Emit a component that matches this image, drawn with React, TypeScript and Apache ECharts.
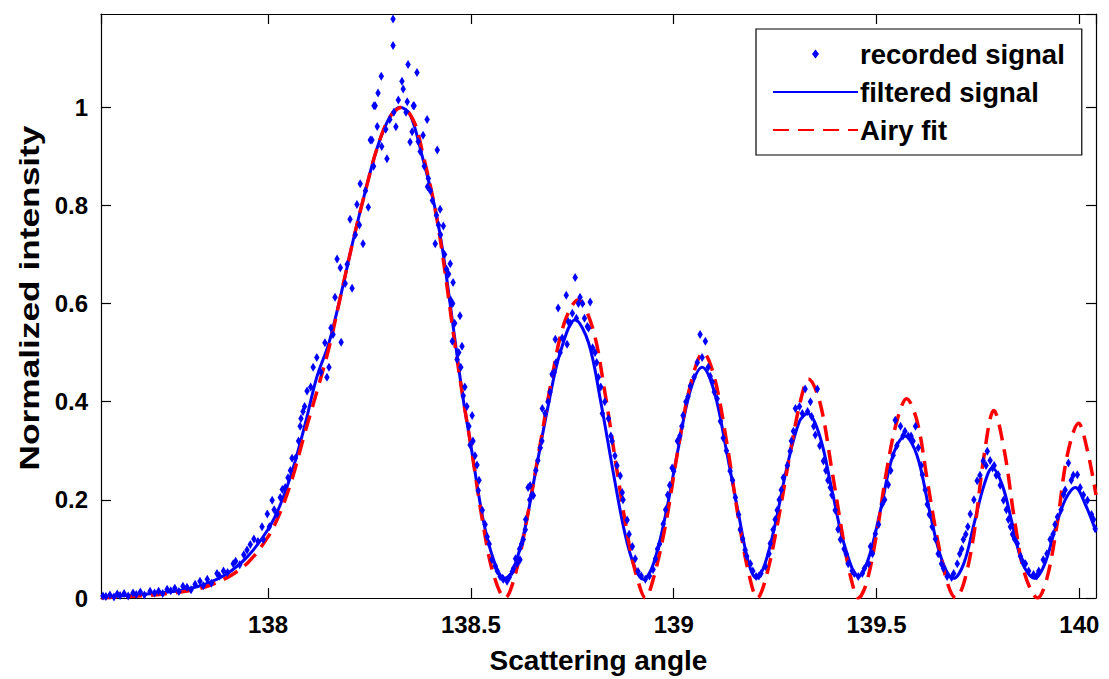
import React, { useEffect, useRef } from "react";
import * as echarts from "echarts";

const X_MIN = 137.588;
const X_MAX = 140.041;
const Y_MIN = 0;
const Y_MAX = 1.19;

const seriesNames = ["recorded signal", "filtered signal", "Airy fit"];
const xTitle = "Scattering angle";
const yTitle = "Normalized intensity";

// recorded signal: [angle, normalized intensity]
const recordedSignal: [number, number][] = [
  [137.593,0.004],[137.600,0.003],[137.610,0.006],[137.620,0.002],[137.628,0.008],[137.635,0.005],[137.645,0.009],[137.655,0.004],
  [137.667,0.010],[137.675,0.007],[137.685,0.012],[137.695,0.006],[137.709,0.014],[137.720,0.010],[137.730,0.014],[137.740,0.009],
  [137.751,0.018],[137.760,0.015],[137.770,0.020],[137.780,0.013],[137.790,0.024],[137.800,0.022],[137.810,0.017],[137.820,0.028],
  [137.832,0.034],[137.840,0.025],[137.850,0.038],[137.860,0.030],[137.874,0.050],[137.880,0.045],[137.890,0.055],[137.900,0.052],
  [137.914,0.070],[137.920,0.075],[137.930,0.068],[137.940,0.088],[137.948,0.098],[137.956,0.109],[137.965,0.120],[137.975,0.115],
  [137.985,0.145],[137.988,0.119],[137.998,0.171],[138.003,0.145],[138.010,0.199],[138.015,0.180],[138.022,0.171],[138.030,0.205],
  [138.035,0.221],[138.042,0.225],[138.049,0.245],[138.055,0.260],[138.059,0.285],[138.067,0.285],[138.075,0.320],[138.079,0.350],
  [138.081,0.366],[138.086,0.380],[138.090,0.390],[138.096,0.422],[138.105,0.430],[138.111,0.470],[138.120,0.490],[138.130,0.460],
  [138.140,0.520],[138.145,0.450],[138.150,0.470],[138.155,0.550],[138.160,0.537],[138.165,0.613],[138.170,0.691],[138.178,0.673],
  [138.180,0.521],[138.190,0.641],[138.195,0.680],[138.202,0.772],[138.207,0.631],[138.215,0.740],[138.219,0.802],[138.225,0.760],
  [138.227,0.844],[138.234,0.722],[138.240,0.830],[138.247,0.796],[138.252,0.933],[138.256,0.933],[138.260,0.880],[138.261,1.003],
  [138.264,1.003],[138.269,0.961],[138.271,1.029],[138.279,1.063],[138.280,0.920],[138.290,0.955],[138.293,0.895],[138.300,0.975],
  [138.308,1.180],[138.308,1.126],[138.310,0.990],[138.315,0.960],[138.321,1.015],[138.330,1.053],[138.333,1.037],[138.340,0.990],
  [138.343,1.011],[138.345,1.087],[138.350,0.929],[138.355,0.950],[138.358,1.003],[138.360,1.003],[138.367,1.071],[138.370,0.930],
  [138.375,0.910],[138.382,0.943],[138.385,0.880],[138.392,0.975],[138.393,0.838],[138.395,0.855],[138.400,0.830],[138.405,0.810],
  [138.412,0.722],[138.415,0.780],[138.417,0.913],[138.420,0.760],[138.424,0.792],[138.425,0.740],[138.432,0.758],[138.435,0.700],
  [138.440,0.670],[138.445,0.660],[138.449,0.681],[138.450,0.607],[138.454,0.523],[138.455,0.600],[138.456,0.643],[138.460,0.560],
  [138.466,0.486],[138.470,0.500],[138.473,0.575],[138.475,0.470],[138.478,0.513],[138.481,0.412],[138.485,0.430],[138.490,0.390],
  [138.495,0.350],[138.498,0.312],[138.503,0.372],[138.505,0.320],[138.510,0.290],[138.515,0.271],[138.518,0.219],[138.520,0.240],
  [138.528,0.179],[138.535,0.150],[138.540,0.125],[138.545,0.110],[138.552,0.078],[138.560,0.065],[138.565,0.055],[138.572,0.044],
  [138.578,0.040],[138.580,0.038],[138.589,0.034],[138.595,0.043],[138.602,0.054],[138.605,0.060],[138.610,0.080],[138.614,0.070],
  [138.620,0.100],[138.621,0.078],[138.625,0.110],[138.629,0.119],[138.634,0.139],[138.635,0.160],[138.641,0.225],[138.645,0.200],
  [138.646,0.229],[138.650,0.210],[138.654,0.209],[138.660,0.260],[138.665,0.280],[138.671,0.306],[138.675,0.320],[138.676,0.386],
  [138.683,0.376],[138.690,0.400],[138.695,0.420],[138.700,0.456],[138.705,0.460],[138.708,0.527],[138.710,0.480],[138.715,0.591],
  [138.720,0.500],[138.725,0.530],[138.735,0.617],[138.737,0.517],[138.740,0.563],[138.745,0.560],[138.750,0.580],[138.757,0.653],
  [138.760,0.570],[138.765,0.600],[138.769,0.613],[138.775,0.600],[138.780,0.570],[138.787,0.553],[138.790,0.550],[138.794,0.603],
  [138.800,0.510],[138.806,0.500],[138.810,0.480],[138.814,0.450],[138.820,0.430],[138.824,0.376],[138.830,0.400],[138.839,0.366],
  [138.845,0.330],[138.848,0.320],[138.855,0.290],[138.860,0.270],[138.868,0.249],[138.873,0.215],[138.875,0.200],[138.885,0.159],
  [138.890,0.130],[138.898,0.105],[138.905,0.080],[138.912,0.054],[138.920,0.045],[138.930,0.038],[138.940,0.045],[138.949,0.058],
  [138.955,0.080],[138.960,0.100],[138.965,0.110],[138.974,0.151],[138.980,0.180],[138.985,0.210],[138.990,0.230],[138.996,0.265],
  [139.000,0.259],[139.009,0.320],[139.015,0.330],[139.020,0.350],[139.023,0.372],[139.030,0.400],[139.035,0.410],[139.041,0.432],
  [139.050,0.450],[139.058,0.480],[139.065,0.537],[139.070,0.490],[139.078,0.523],[139.085,0.470],[139.090,0.452],[139.095,0.440],
  [139.100,0.420],[139.107,0.406],[139.115,0.360],[139.122,0.326],[139.130,0.300],[139.139,0.259],[139.145,0.240],[139.152,0.205],
  [139.160,0.170],[139.164,0.139],[139.170,0.120],[139.176,0.098],[139.180,0.085],[139.189,0.070],[139.195,0.055],[139.203,0.044],
  [139.210,0.045],[139.215,0.050],[139.226,0.064],[139.235,0.090],[139.238,0.111],[139.245,0.139],[139.250,0.160],[139.255,0.179],
  [139.260,0.200],[139.265,0.220],[139.270,0.245],[139.280,0.270],[139.287,0.299],[139.290,0.320],[139.295,0.340],[139.300,0.386],
  [139.310,0.390],[139.317,0.376],[139.324,0.426],[139.330,0.380],[139.337,0.400],[139.340,0.370],[139.345,0.350],[139.349,0.332],
  [139.354,0.426],[139.360,0.310],[139.369,0.279],[139.375,0.260],[139.380,0.240],[139.386,0.225],[139.390,0.210],[139.398,0.179],
  [139.405,0.140],[139.411,0.119],[139.420,0.100],[139.425,0.090],[139.430,0.070],[139.440,0.055],[139.445,0.050],[139.455,0.044],
  [139.465,0.050],[139.470,0.060],[139.480,0.070],[139.485,0.105],[139.490,0.090],[139.497,0.131],[139.505,0.150],[139.514,0.191],
  [139.520,0.200],[139.529,0.231],[139.535,0.260],[139.541,0.291],[139.546,0.362],[139.550,0.310],[139.559,0.350],[139.565,0.330],
  [139.570,0.340],[139.578,0.330],[139.585,0.330],[139.590,0.320],[139.596,0.350],[139.603,0.306],[139.610,0.270],[139.613,0.251],
  [139.620,0.220],[139.625,0.191],[139.630,0.170],[139.637,0.145],[139.645,0.120],[139.652,0.090],[139.660,0.070],[139.665,0.060],
  [139.674,0.044],[139.685,0.042],[139.690,0.050],[139.699,0.070],[139.705,0.090],[139.710,0.100],[139.714,0.119],[139.720,0.130],
  [139.725,0.145],[139.731,0.171],[139.740,0.200],[139.748,0.239],[139.755,0.250],[139.763,0.279],[139.770,0.270],[139.773,0.299],
  [139.780,0.280],[139.786,0.265],[139.790,0.270],[139.795,0.250],[139.800,0.251],[139.805,0.230],[139.813,0.199],[139.820,0.180],
  [139.825,0.160],[139.830,0.145],[139.835,0.130],[139.840,0.120],[139.847,0.111],[139.855,0.085],[139.860,0.075],[139.867,0.070],
  [139.875,0.055],[139.887,0.048],[139.895,0.045],[139.900,0.055],[139.911,0.078],[139.920,0.090],[139.928,0.119],[139.935,0.130],
  [139.940,0.150],[139.946,0.165],[139.955,0.180],[139.961,0.211],[139.965,0.220],[139.973,0.275],[139.980,0.240],[139.985,0.250],
  [139.995,0.251],[140.002,0.225],[140.010,0.210],[140.020,0.199],[140.030,0.170],[140.035,0.160],[140.039,0.141]
];

// filtered signal
const filteredAngle = [
  137.588,137.65,137.70,137.75,137.80,137.85,137.90,137.95,138.00,138.03,138.06,138.09,138.12,138.15,138.18,138.21,138.24,138.27,
  138.30,138.325,138.35,138.38,138.41,138.43,138.46,138.48,138.50,138.53,138.555,138.58,138.60,138.63,138.66,138.69,138.72,138.757,
  138.79,138.82,138.85,138.88,138.905,138.925,138.95,138.98,139.01,139.04,139.07,139.10,139.13,139.16,139.185,139.204,139.225,
  139.25,139.28,139.31,139.33,139.36,139.39,139.42,139.455,139.48,139.51,139.54,139.57,139.60,139.63,139.66,139.69,139.715,139.74,
  139.765,139.785,139.81,139.835,139.86,139.89,139.915,139.94,139.965,139.99,140.015,140.041
];
const filteredIntensity = [
  0.003,0.005,0.008,0.012,0.018,0.030,0.050,0.085,0.140,0.190,0.260,0.350,0.450,0.520,0.620,0.730,0.830,0.920,
  0.980,1.000,0.985,0.900,0.800,0.710,0.530,0.410,0.310,0.160,0.080,0.040,0.050,0.130,0.260,0.390,0.500,0.567,
  0.520,0.400,0.260,0.130,0.060,0.038,0.070,0.170,0.300,0.420,0.470,0.420,0.300,0.170,0.070,0.040,0.070,
  0.150,0.270,0.360,0.376,0.330,0.220,0.110,0.044,0.080,0.180,0.290,0.330,0.290,0.180,0.080,0.040,0.070,0.150,
  0.230,0.265,0.230,0.150,0.070,0.040,0.070,0.140,0.200,0.225,0.190,0.135
];

// Airy fit
const airyAngle = [
  137.588,137.65,137.70,137.75,137.80,137.85,137.90,137.95,138.00,138.03,138.06,138.09,138.12,138.15,138.18,138.21,138.24,138.27,
  138.30,138.33,138.36,138.38,138.41,138.43,138.46,138.48,138.50,138.53,138.555,138.584,138.61,138.64,138.67,138.70,138.73,138.764,
  138.80,138.83,138.86,138.89,138.91,138.93,138.95,138.98,139.01,139.04,139.073,139.10,139.13,139.16,139.185,139.206,139.23,
  139.26,139.29,139.315,139.332,139.36,139.39,139.42,139.44,139.455,139.475,139.50,139.525,139.55,139.574,139.60,139.625,139.65,
  139.675,139.695,139.715,139.74,139.765,139.789,139.815,139.84,139.865,139.897,139.92,139.945,139.97,139.998,140.02,140.041
];
const airyIntensity = [
  0.000,0.003,0.005,0.009,0.014,0.024,0.042,0.072,0.125,0.175,0.245,0.335,0.420,0.510,0.620,0.730,0.830,0.920,
  0.980,1.000,0.970,0.910,0.800,0.700,0.520,0.410,0.310,0.150,0.050,0.000,0.050,0.170,0.310,0.450,0.560,0.607,
  0.550,0.420,0.260,0.110,0.040,0.000,0.040,0.150,0.300,0.430,0.500,0.450,0.320,0.160,0.050,0.000,0.050,
  0.170,0.310,0.410,0.446,0.400,0.260,0.110,0.030,0.000,0.030,0.130,0.260,0.360,0.406,0.360,0.240,0.120,
  0.030,0.000,0.030,0.130,0.290,0.382,0.300,0.160,0.050,0.000,0.040,0.150,0.290,0.356,0.300,0.210
];

const FONT = "'Liberation Sans', Arial, Helvetica, sans-serif";
const BLUE = "#0000ff";
const RED = "#ff0000";
const DIAMOND = "path://M3.5,0L7,4.5L3.5,9L0,4.5Z";

export default function App() {
  const ref = useRef<HTMLDivElement>(null);
  useEffect(() => {
    if (!ref.current) return;
    const chart = echarts.init(ref.current, undefined, { renderer: "svg" });
    const tickLabel = { color: "#000", fontSize: 24, fontWeight: "bold" as const, fontFamily: FONT };
    const axisLine = { show: true, onZero: false, lineStyle: { color: "#000", width: 1.2 } };
    const axisTick = { show: true, inside: true, length: 10, lineStyle: { color: "#000", width: 1.2 } };
    const xBase = { type: "value" as const, min: X_MIN, max: X_MAX, splitNumber: 5, minInterval: 0.5, maxInterval: 0.5, splitLine: { show: false } };
    const yBase = { type: "value" as const, min: Y_MIN, max: Y_MAX, splitNumber: 6, minInterval: 0.2, maxInterval: 0.2, splitLine: { show: false } };
    chart.setOption({
      animation: false,
      backgroundColor: "#ffffff",
      grid: { left: 101, right: 13, top: 14, bottom: 77, containLabel: false },
      graphic: [
        {
          type: "text",
          x: 29,
          y: 298,
          rotation: Math.PI / 2,
          scaleX: 1.26,
          style: {
            text: yTitle,
            fill: "#000",
            font: `bold 28px ${FONT}`,
            textAlign: "center",
            textVerticalAlign: "middle",
          },
        },
      ],
      legend: {
        orient: "vertical",
        left: 756,
        top: 29,
        padding: [11, 17, 11, 16],
        itemWidth: 85,
        itemHeight: 9,
        itemGap: 10,
        backgroundColor: "#fff",
        borderColor: "#000",
        borderWidth: 1.2,
        borderRadius: 0,
        symbolKeepAspect: true,
        textStyle: { color: "#000", fontSize: 27.5, fontWeight: "bold", fontFamily: FONT, lineHeight: 28, padding: [0, 0, 0, -3] },
        data: [
          { name: seriesNames[0], icon: DIAMOND },
          { name: seriesNames[1], itemStyle: { opacity: 0 } },
          { name: seriesNames[2], itemStyle: { opacity: 0 } },
        ],
      },
      xAxis: [
        {
          ...xBase,
          position: "bottom",
          name: xTitle,
          nameLocation: "middle",
          nameGap: 48,
          nameTextStyle: { color: "#000", fontSize: 28, fontWeight: "bold", fontFamily: FONT },
          axisLine,
          axisTick,
          axisLabel: { ...tickLabel, margin: 14, showMinLabel: false, showMaxLabel: false },
        },
        { ...xBase, position: "top", axisLine, axisTick, axisLabel: { show: false } },
      ],
      yAxis: [
        {
          ...yBase,
          position: "left",
          axisLine,
          axisTick,
          axisLabel: { ...tickLabel, margin: 13, showMaxLabel: false },
        },
        { ...yBase, position: "right", axisLine, axisTick, axisLabel: { show: false } },
      ],
      series: [
        {
          name: seriesNames[1],
          type: "line",
          xAxisIndex: 0,
          yAxisIndex: 0,
          data: filteredAngle.map((a, i) => [a, filteredIntensity[i]]),
          smooth: 0.35,
          symbol: "none",
          lineStyle: { color: BLUE, width: 3 },
          itemStyle: { color: BLUE },
          z: 2,
        },
        {
          name: seriesNames[2],
          type: "line",
          xAxisIndex: 0,
          yAxisIndex: 0,
          data: airyAngle.map((a, i) => [a, airyIntensity[i]]),
          smooth: 0.35,
          symbol: "none",
          lineStyle: { color: RED, width: 3.5, type: [16, 9] },
          itemStyle: { color: RED },
          z: 3,
        },
        {
          name: seriesNames[0],
          type: "scatter",
          xAxisIndex: 0,
          yAxisIndex: 0,
          data: recordedSignal,
          symbol: DIAMOND,
          symbolKeepAspect: true,
          symbolSize: [7, 9],
          itemStyle: { color: BLUE, opacity: 1 },
          z: 4,
        },
      ],
    });
    return () => chart.dispose();
  }, []);
  return (
    <div
      ref={ref}
      style={{ position: "fixed", left: 0, top: 0, width: 1109, height: 679, background: "#fff" }}
    />
  );
}
